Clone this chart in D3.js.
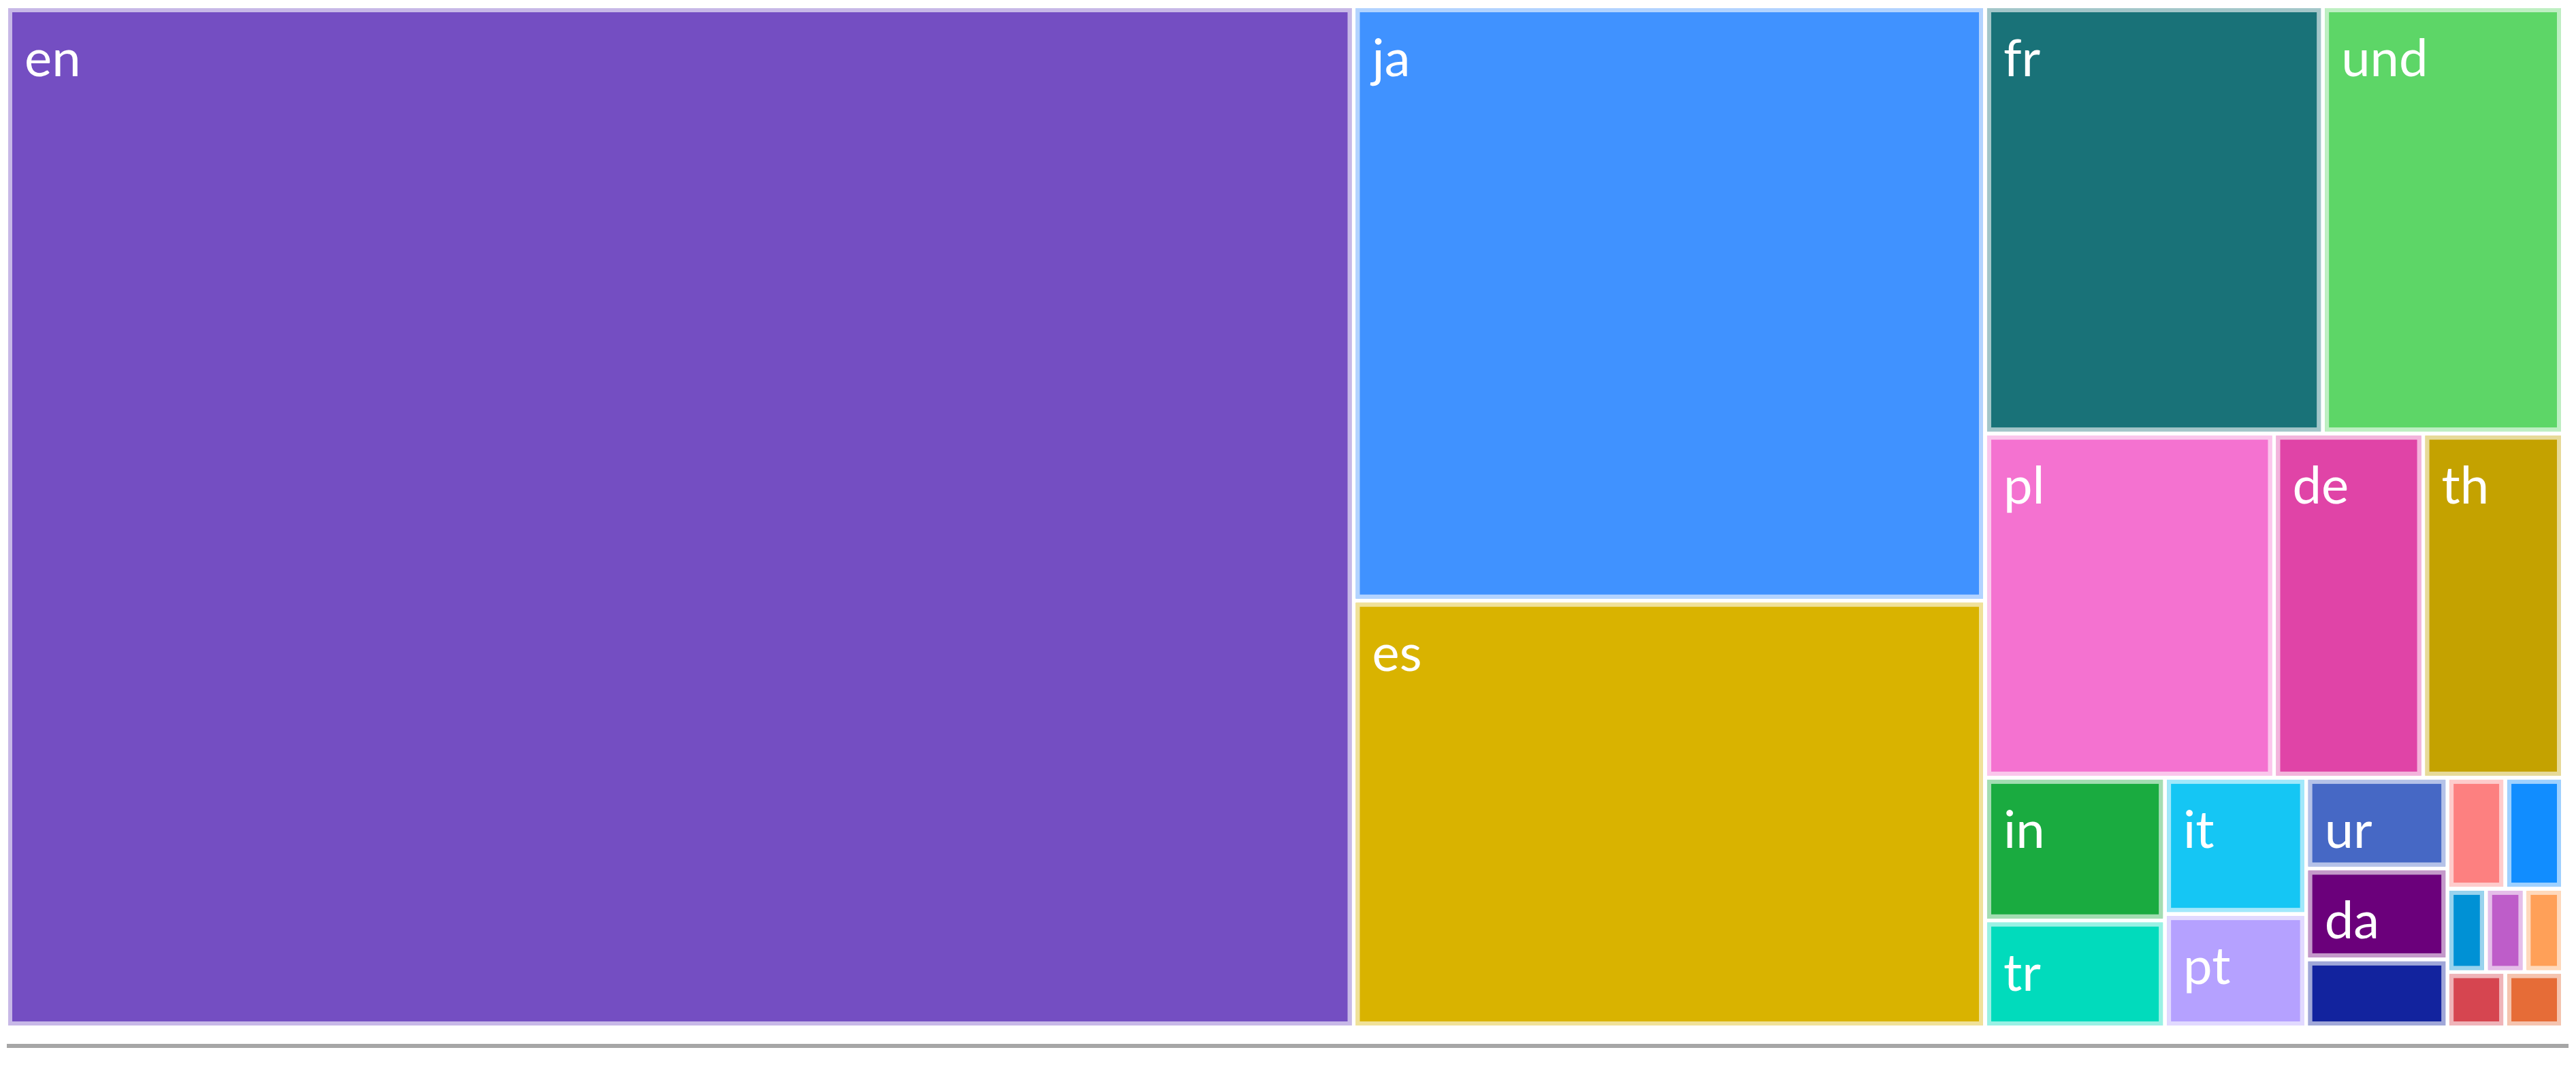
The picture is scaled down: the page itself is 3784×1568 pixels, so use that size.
<!DOCTYPE html>
<html>
<head>
<meta charset="utf-8">
<script src="https://cdn.jsdelivr.net/npm/d3@7"></script>
<style>
  html, body { margin: 0; padding: 0; background: #ffffff; }
  svg { display: block; }
</style>
</head>
<body>
<script>
// Languages (tweet counts per language)
const categories = ["en", "ja", "es", "fr", "und", "pl", "de", "th", "in", "tr", "it", "pt", "ur", "da", "ko", "ar", "ru", "nl", "zh", "tl", "sv", "fi"];
const values     = [429, 117, 84, 45, 32, 31, 16, 15, 8, 6, 6, 5, 4, 4, 3, 2, 2, 1, 1, 1, 1, 1];
const colors     = ["#744EC2", "#4092FF", "#D9B300", "#197278", "#5DD667", "#F472D0", "#E044A7", "#C4A200",
                    "#1AAB40", "#01DBBC", "#15C6F4", "#B5A1FF", "#4668C5", "#6B007B", "#12239E", "#FD8080",
                    "#118DFF", "#0091D5", "#BE5DC9", "#FFA058", "#D64550", "#E66C37"];

const W = 3784, H = 1568;
const margin = { left: 12, top: 12 };
const innerW = 3750, innerH = 1495;

const svg = d3.select("body").append("svg")
  .attr("width", W).attr("height", H);

const data = categories.map((c, i) => ({ name: c, value: values[i], color: colors[i] }));

const root = d3.hierarchy({ name: "root", children: data })
  .sum(d => d.value || 0)
  .sort((a, b) => b.value - a.value);

d3.treemap()
  .tile(d3.treemapSquarify)
  .size([innerW, innerH])
  .paddingInner(6)
  .paddingOuter(0)(root);

const g = svg.append("g").attr("transform", `translate(${margin.left},${margin.top})`);

const cell = g.selectAll("g.cell")
  .data(root.leaves())
  .join("g")
  .attr("class", "cell")
  .attr("transform", d => `translate(${d.x0},${d.y0})`);

cell.append("rect")
  .attr("width", d => d.x1 - d.x0)
  .attr("height", d => d.y1 - d.y0)
  .attr("fill", d => d.data.color);

// light inner border band
cell.append("rect")
  .attr("x", 3).attr("y", 3)
  .attr("width", d => Math.max(0, d.x1 - d.x0 - 6))
  .attr("height", d => Math.max(0, d.y1 - d.y0 - 6))
  .attr("fill", "none")
  .attr("stroke", "#ffffff")
  .attr("stroke-opacity", 0.6)
  .attr("stroke-width", 6);

cell.filter(d => (d.y1 - d.y0) > 110 && (d.x1 - d.x0) > 100)
  .append("text")
  .attr("x", 24)
  .attr("y", 100)
  .attr("fill", "#ffffff")
  .style("font-family", "'Segoe UI', Lato, 'Liberation Sans', sans-serif")
  .style("font-size", "76px")
  .text(d => d.data.name);

// bottom rule
const xRule = d3.scaleLinear().domain([0, 1]).range([10, 3773]);
svg.append("line")
  .attr("x1", xRule(0)).attr("x2", xRule(1))
  .attr("y1", 1537).attr("y2", 1537)
  .attr("stroke", "#A6A6A6")
  .attr("stroke-width", 6);
</script>
</body>
</html>
